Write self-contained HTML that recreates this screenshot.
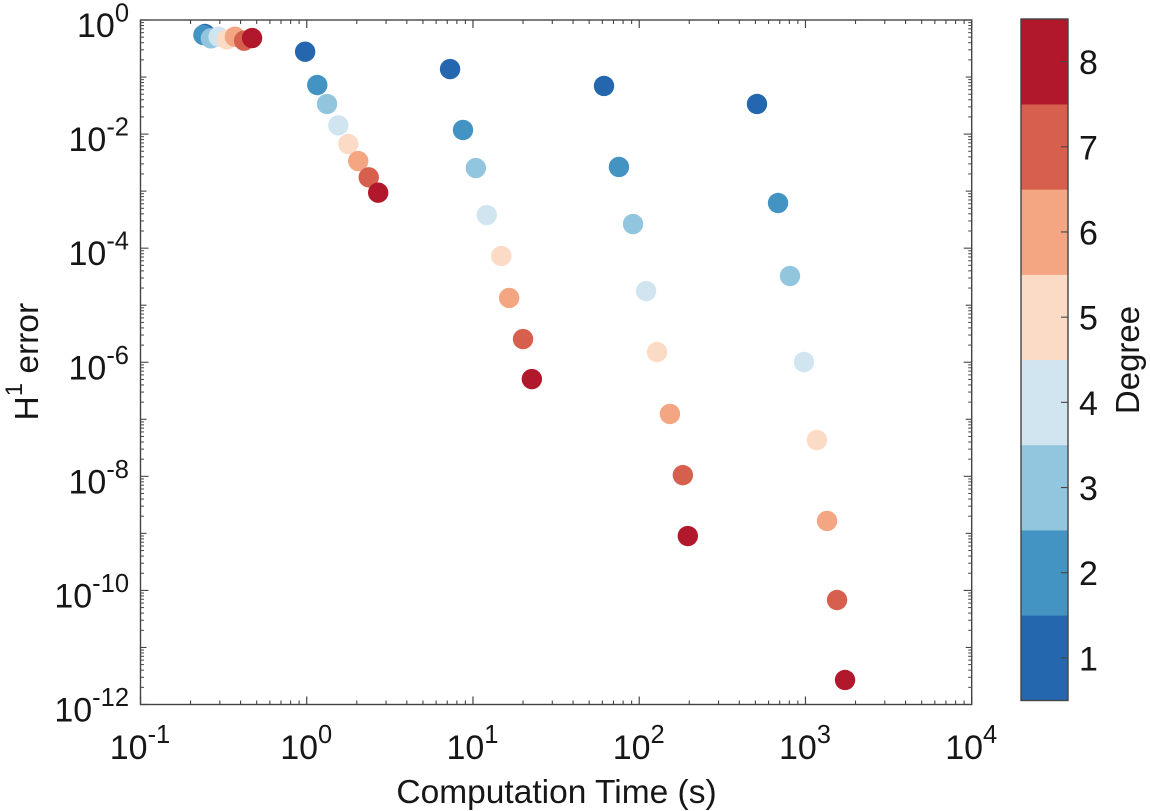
<!DOCTYPE html>
<html lang="en">
<head>
<meta charset="utf-8">
<title>H1 error vs computation time</title>
<style>
html,body{margin:0;padding:0;background:#fff;}
svg{display:block;}
text{font-family:"Liberation Sans",sans-serif;fill:#161616;}
</style>
</head>
<body>
<svg id="chart" width="1150" height="811" viewBox="0 0 1150 811" xmlns="http://www.w3.org/2000/svg"></svg>
<script>
const degrees = [1, 2, 3, 4, 5, 6, 7, 8];
const degreeColors = ['#2567ae', '#4393c3', '#92c5de', '#d1e5f0', '#fbdac6', '#f4a582', '#d6604d', '#b2182b'];
const xTickExponents = [-1, 0, 1, 2, 3, 4];
const yTickExponents = [0, -2, -4, -6, -8, -10, -12];

const timeMeshA = [0.244, 0.239, 0.265, 0.295, 0.331, 0.370, 0.420, 0.469];
const errorMeshA = [0.568, 0.546, 0.478, 0.509, 0.459, 0.509, 0.434, 0.483];
const timeMeshB = [0.978, 1.157, 1.324, 1.549, 1.778, 2.04, 2.36, 2.69];
const errorMeshB = [0.278, 0.0725, 0.0337, 0.01426, 0.0067, 0.00337, 0.001746, 0.000938];
const timeMeshC = [7.28, 8.71, 10.4, 12.1, 14.8, 16.5, 20.0, 22.6];
const errorMeshC = [0.138, 0.0118, 0.00254, 3.81e-4, 7.29e-5, 1.34e-5, 2.55e-6, 5.08e-7];
const timeMeshD = [61.4, 75.5, 91.8, 110, 128, 153, 183, 196];
const errorMeshD = [0.0697, 0.00265, 2.65e-4, 1.77e-5, 1.51e-6, 1.24e-7, 1.05e-8, 8.99e-10];
const timeMeshE = [511, 684, 807, 980, 1172, 1349, 1549, 1730];
const errorMeshE = [0.0337, 6.19e-4, 3.25e-5, 1.01e-6, 4.33e-8, 1.65e-9, 6.79e-11, 2.69e-12];

const meshNames = ['a', 'b', 'c', 'd', 'e'];
const meshTimes = [timeMeshA, timeMeshB, timeMeshC, timeMeshD, timeMeshE];
const meshErrors = [errorMeshA, errorMeshB, errorMeshC, errorMeshD, errorMeshE];

const svg = document.getElementById('chart');
const NS = 'http://www.w3.org/2000/svg';
const plotLeft = 140.5, plotRight = 971.7, plotTop = 20, plotBottom = 704.5;
const barLeft = 1021, barRight = 1068, barTop = 19, barBottom = 700.5;
const axisColor = '#444';

function xScale(t) {
  return plotLeft + (Math.log10(t) + 1) / 5 * (plotRight - plotLeft);
}
function yScale(e) {
  return plotTop + (0 - Math.log10(e)) / 12 * (plotBottom - plotTop);
}
function barScale(d) {
  return barBottom - (d - 0.5) / 8 * (barBottom - barTop);
}
function make(tag, attrs, parent) {
  const el = document.createElementNS(NS, tag);
  for (const k in attrs) el.setAttribute(k, attrs[k]);
  (parent || svg).appendChild(el);
  return el;
}
function makeGroup(name) {
  const g = document.createElementNS(NS, 'g');
  
  
  svg.appendChild(g);
  return g;
}
function tickLine(parent, x1, y1, x2, y2, width) {
  const l = make('line', {x1: x1, y1: y1, x2: x2, y2: y2, stroke: axisColor, 'stroke-width': width}, parent);
  
  
}

/* plot frame */
const frame = make('rect', {x: plotLeft, y: plotTop, width: plotRight - plotLeft, height: plotBottom - plotTop, fill: 'none', stroke: axisColor, 'stroke-width': 1.4});



/* x ticks */
const xTicks = makeGroup('x-axis-ticks');
xTickExponents.forEach(function (exp, i) {
  const x = xScale(Math.pow(10, exp));
  tickLine(xTicks, x, plotBottom, x, plotBottom - 8, 1.2);
  tickLine(xTicks, x, plotTop, x, plotTop + 8, 1.2);
  if (i < xTickExponents.length - 1) {
    for (let m = 2; m < 10; m++) {
      const xm = xScale(m * Math.pow(10, exp));
      tickLine(xTicks, xm, plotBottom, xm, plotBottom - 4, 1.1);
      tickLine(xTicks, xm, plotTop, xm, plotTop + 4, 1.1);
    }
  }
  const label = make('text', {x: x - 0.5, y: 759, 'text-anchor': 'middle', 'font-size': 34});
  
  
  label.appendChild(document.createTextNode('10'));
  const sup = make('tspan', {dy: -16, 'font-size': 25.5}, label);
  sup.textContent = String(exp);
});

/* y ticks */
const yTicks = makeGroup('y-axis-ticks');
const yMinExp = -12, yMaxExp = 0;
for (let exp = yMaxExp; exp >= yMinExp; exp--) {
  const y = yScale(Math.pow(10, exp));
  const major = exp % 2 === 0;
  const len = major ? 8 : 6;
  tickLine(yTicks, plotLeft, y, plotLeft + len, y, 1.1);
  tickLine(yTicks, plotRight, y, plotRight - len, y, 1.1);
  if (exp > yMinExp) {
    for (let m = 2; m < 10; m++) {
      const ym = yScale(m * Math.pow(10, exp - 1));
      tickLine(yTicks, plotLeft, ym, plotLeft + 3.5, ym, 1);
      tickLine(yTicks, plotRight, ym, plotRight - 3.5, ym, 1);
    }
  }
}
yTickExponents.forEach(function (exp) {
  const y = yScale(Math.pow(10, exp));
  const label = make('text', {x: 129, y: y + 17, 'text-anchor': 'end', 'font-size': 34});
  
  
  label.appendChild(document.createTextNode('10'));
  const sup = make('tspan', {dy: -15.5, 'font-size': 25.5}, label);
  sup.textContent = String(exp);
});

/* scatter points */
const points = makeGroup('scatter-points');
meshTimes.forEach(function (times, s) {
  const seriesGroup = make('g', {}, points);
  
  
  times.forEach(function (t, i) {
    const c = make('circle', {cx: xScale(t), cy: yScale(meshErrors[s][i]), r: 10.2, fill: degreeColors[i]}, seriesGroup);
    
    
  });
});

/* colorbar */
const bar = makeGroup('degree-colorbar');
degrees.forEach(function (d, i) {
  const yTop = barScale(d + 0.5), yBot = barScale(d - 0.5);
  const seg = make('rect', {x: barLeft, y: yTop, width: barRight - barLeft, height: yBot - yTop + 0.3, fill: degreeColors[i]}, bar);
  
  
});
const barFrame = make('rect', {x: barLeft, y: barTop, width: barRight - barLeft, height: barBottom - barTop, fill: 'none', stroke: axisColor, 'stroke-width': 1.4}, bar);


degrees.forEach(function (d) {
  const y = barScale(d);
  tickLine(bar, barRight - 7, y, barRight, y, 1.1);
  const label = make('text', {x: 1079, y: y + 12.5, 'font-size': 34}, bar);
  
  
  label.textContent = String(d);
});

/* titles */
const xTitle = make('text', {x: 556.5, y: 803, 'text-anchor': 'middle', 'font-size': 33.5});


xTitle.textContent = 'Computation Time (s)';

const yTitle = make('text', {transform: 'translate(38 420.5) rotate(-90)', 'font-size': 33.5});


yTitle.appendChild(document.createTextNode('H'));
const ySup = make('tspan', {dy: -16, 'font-size': 24}, yTitle);
ySup.textContent = '1';
const yRest = make('tspan', {dy: 16}, yTitle);
yRest.setAttribute('xml:space', 'preserve');
yRest.style.whiteSpace = 'pre';
yRest.textContent = ' error';

const barTitle = make('text', {transform: 'translate(1139 360) rotate(-90)', 'text-anchor': 'middle', 'font-size': 33});


barTitle.textContent = 'Degree';
</script>
</body>
</html>
